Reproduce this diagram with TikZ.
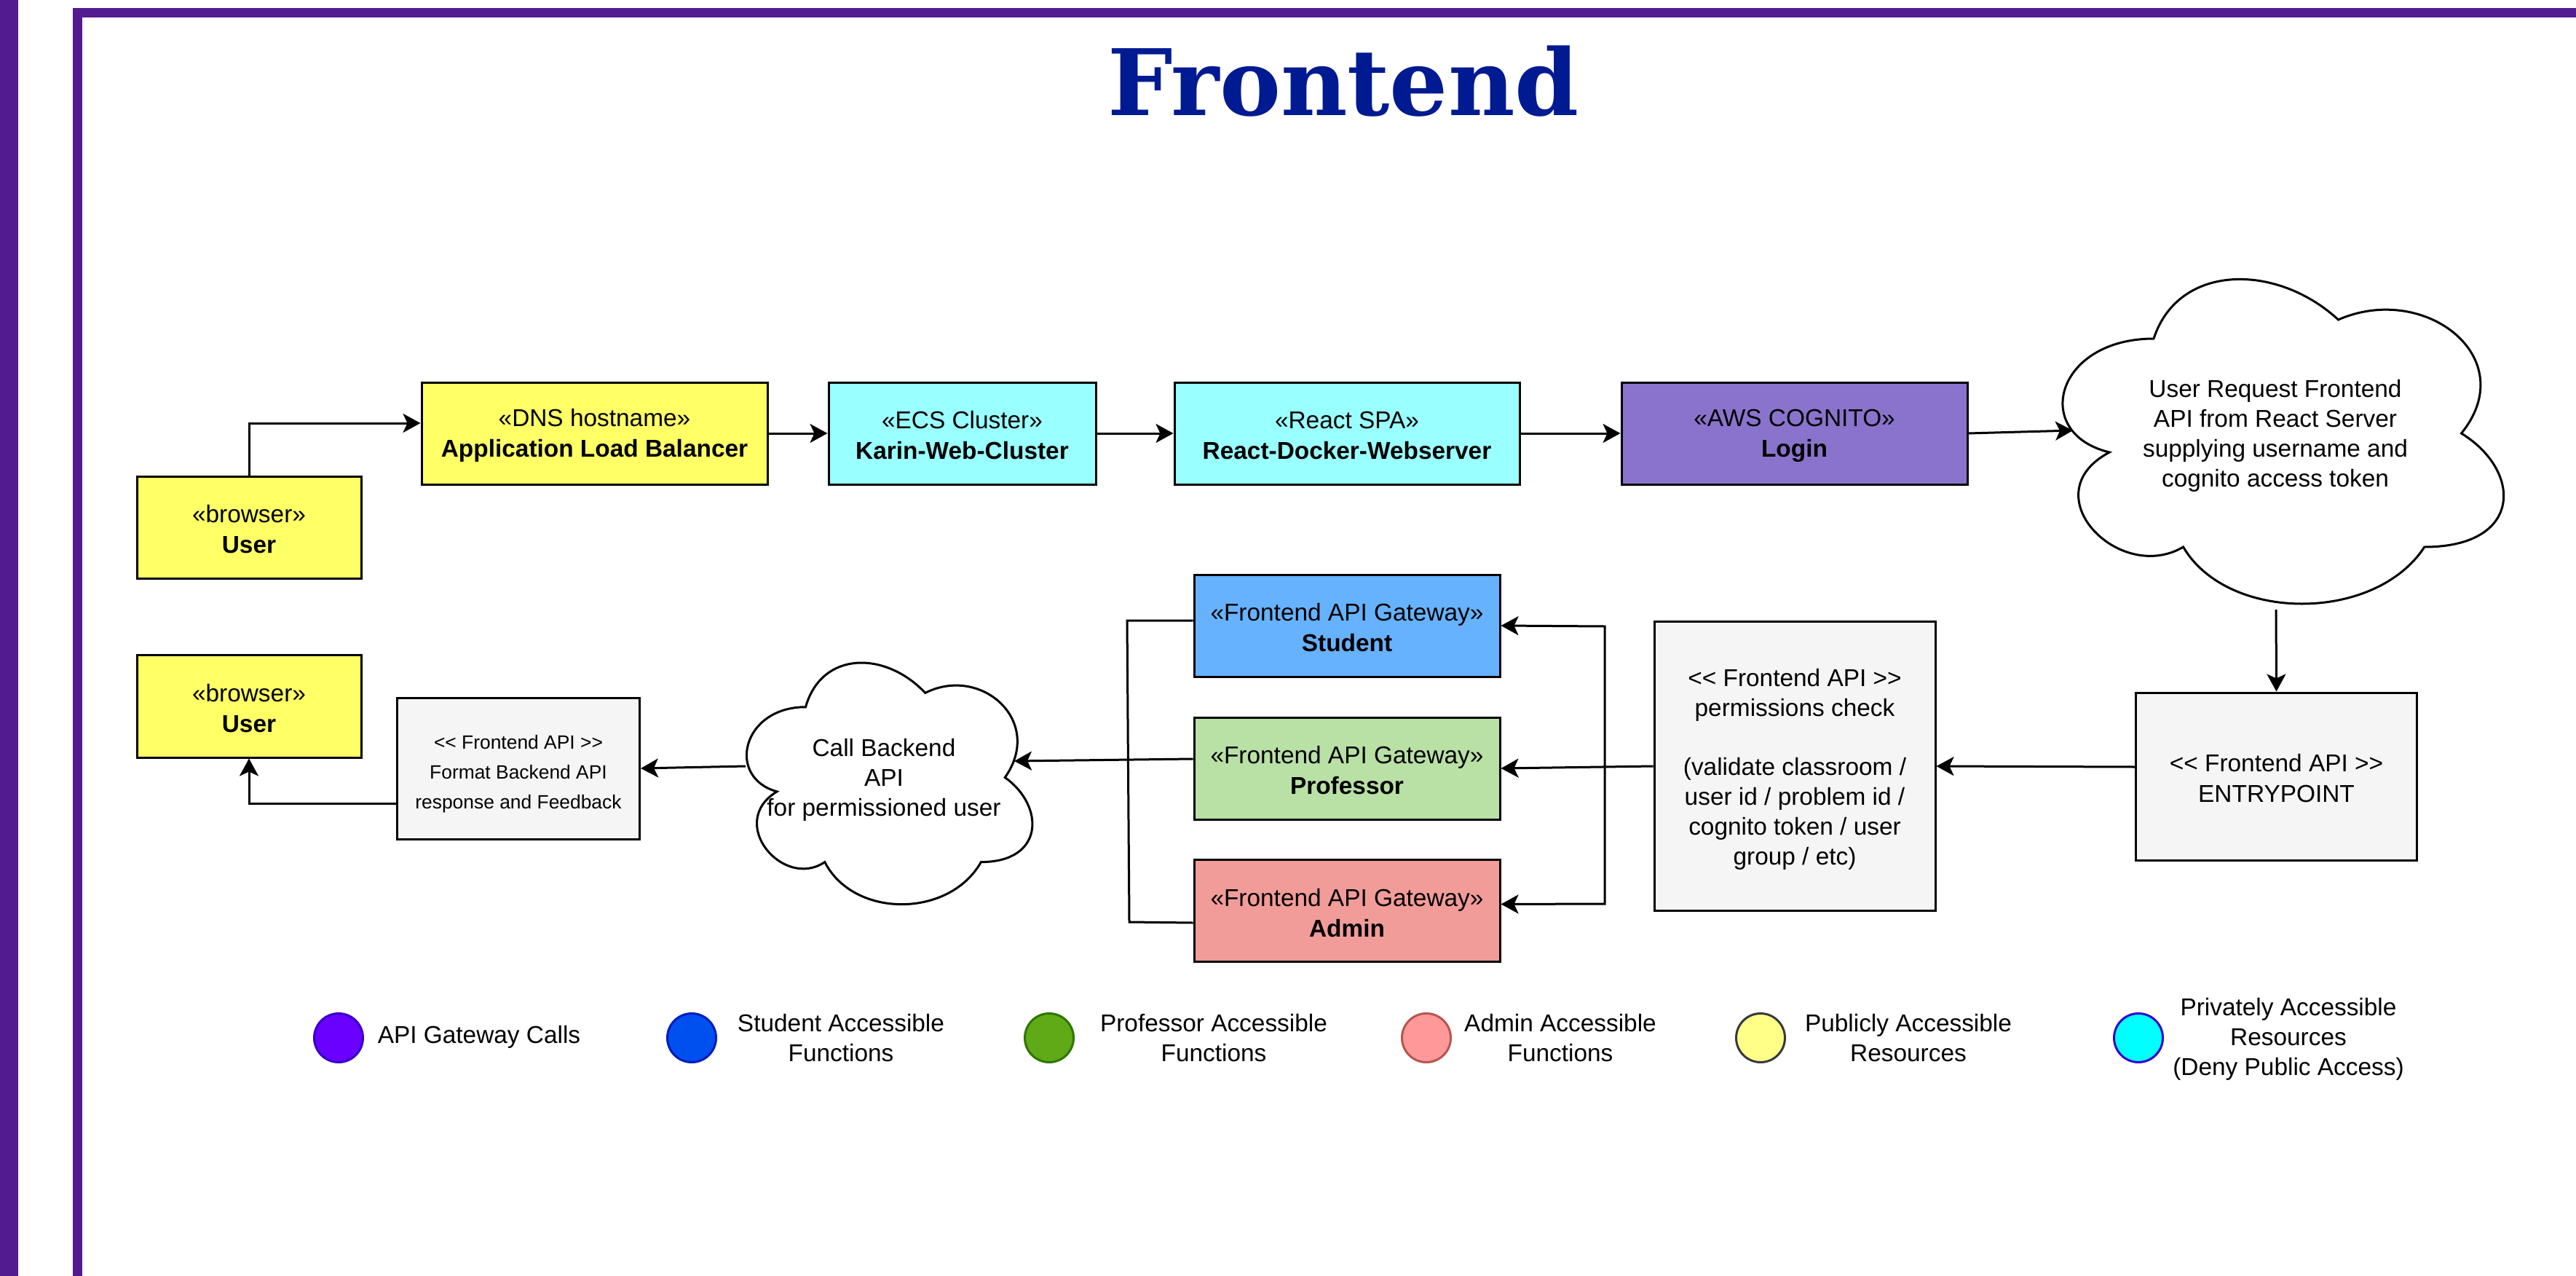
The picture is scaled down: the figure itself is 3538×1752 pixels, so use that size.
\documentclass[tikz,border=0pt]{standalone}
\usepackage{fontspec}
\setmainfont{Liberation Sans}
\newfontfamily\titlefont{DejaVu Serif}
\usetikzlibrary{arrows.meta}
\definecolor{framecol}{RGB}{82,28,144}
\definecolor{titlecol}{RGB}{0,26,145}
\definecolor{pubyellow}{HTML}{FFFF66}
\definecolor{privcyan}{HTML}{99FFFF}
\definecolor{loginpurple}{HTML}{8A73CC}
\definecolor{stublue}{HTML}{66B2FF}
\definecolor{profgreen}{HTML}{B9E0A5}
\definecolor{adminred}{HTML}{F19C99}
\definecolor{apigrey}{HTML}{F5F5F5}
\newcommand{\lowerstrut}{\rule{0pt}{30pt}}
\tikzset{
  base text/.style={font=\fontsize{33.4}{41}\selectfont,align=center,inner sep=0pt,text=black},
  box/.style={base text,font=\fontsize{33.4}{42}\selectfont,draw=black,line width=3pt,minimum width=#1},
  box/.default=100pt,
  conn/.style={line width=3pt,draw=black,-{Stealth[length=24pt,width=26pt,inset=6pt]}},
  plainline/.style={line width=3pt,draw=black},
  cloudline/.style={line width=3pt,draw=black,fill=white},
  legend dot/.style={circle,inner sep=0pt,minimum size=67pt,line width=3pt},
  legend text/.style={base text},
}
\newcommand{\cloudshape}[4]{%
  \begin{scope}[shift={(#1,#2)},x=#3pt,y=-#4pt]
    \path[cloudline] (.25,.25) .. controls (.05,.25) and (0,.5) .. (.16,.55)
      .. controls (0,.66) and (.18,.9) .. (.31,.8)
      .. controls (.4,1) and (.7,1) .. (.8,.8)
      .. controls (1,.8) and (1,.6) .. (.875,.5)
      .. controls (1,.3) and (.8,.1) .. (.625,.2)
      .. controls (.5,.05) and (.3,.05) .. (.25,.25) -- cycle;
  \end{scope}}
\begin{document}
\begin{tikzpicture}[x=1pt,y=-1pt]
\useasboundingbox (0,0) rectangle (3538,1752);
\fill[white] (0,0) rectangle (3538,1752);
% frame
\fill[framecol] (0,0) rectangle (25,1752);
\fill[framecol] (100,11) rectangle (113,1752);
\fill[framecol] (100,11) rectangle (3538,24);
% title
\node[anchor=base,inner sep=0pt,text=titlecol,font=\fontsize{126}{130}\selectfont\titlefont\bfseries] (title) at (1845,159) {Frontend};
% clouds
\cloudshape{2789}{335}{676}{520}
\cloudshape{997}{874}{438}{387}
\node[base text] (cloudA) at (3125,598) {User Request Frontend\\API from React Server\\supplying username and\\cognito access token};
\node[base text] (cloudB) at (1214,1071) {Call Backend \\API\\for permissioned user};
\coordinate (cloudAin) at (2847,591);
\coordinate (cloudAout) at (3126,837);
\coordinate (cloudBin) at (1393,1045);
\coordinate (cloudBout) at (1024,1052);
% top row
\node[box=308pt,fill=pubyellow,minimum height=140pt] (user1) at (342,724) {\lowerstrut«browser»\\\textbf{User}};
\node[box=475pt,fill=pubyellow,minimum height=140pt] (alb) at (816.5,595) {\lowerstrut«DNS hostname»\\\textbf{Application Load Balancer}};
\node[box=367pt,fill=privcyan,minimum height=140pt] (karin) at (1321.5,595) {\lowerstrut«ECS Cluster»\\\textbf{Karin-Web-Cluster}};
\node[box=474pt,fill=privcyan,minimum height=140pt] (react) at (1850,595) {\lowerstrut«React SPA»\\\textbf{React-Docker-Webserver}};
\node[box=475pt,fill=loginpurple,minimum height=140pt] (login) at (2464.5,595) {\lowerstrut«AWS COGNITO»\\\textbf{Login}};
% bottom row
\node[box=386pt,fill=apigrey,minimum height=230pt] (entry) at (3126.5,1066) {\lowerstrut<{}< Frontend API >{}>\\ENTRYPOINT};
\node[box=386pt,fill=apigrey,minimum height=397pt,font=\fontsize{33.4}{41}\selectfont] (perm) at (2465,1052) {\rule{0pt}{33pt}<{}< Frontend API >{}>\\permissions check\\[40pt](validate classroom /\\user id / problem id /\\cognito token / user\\group / etc)};
\node[box=420pt,fill=stublue,minimum height=140pt] (student) at (1850,859) {\lowerstrut«Frontend API Gateway»\\\textbf{Student}};
\node[box=420pt,fill=profgreen,minimum height=140pt] (prof) at (1850,1055) {\lowerstrut«Frontend API Gateway»\\\textbf{Professor}};
\node[box=420pt,fill=adminred,minimum height=140pt] (admin) at (1850,1250.5) {\lowerstrut«Frontend API Gateway»\\\textbf{Admin}};
\node[box=333pt,fill=apigrey,minimum height=194pt,font=\fontsize{26.4}{41}\selectfont] (format) at (712,1055) {\rule{0pt}{34pt}<{}< Frontend API >{}>\\Format Backend API\\response and Feedback};
\node[box=308pt,fill=pubyellow,minimum height=141pt] (user2) at (342,969.5) {\lowerstrut«browser»\\\textbf{User}};
% connectors
\coordinate (elbowS) at (2204,860);
\coordinate (elbowA) at (2204,1241);
\coordinate (leftT) at (1548,852);
\coordinate (leftB) at (1551,1266);
\draw[conn] (user1.north) |- ([yshift=14pt]alb.west);
\draw[conn] (alb) -- (karin);
\draw[conn] (karin) -- (react);
\draw[conn] (react) -- (login);
\draw[conn] (login.east) -- (cloudAin);
\draw[conn] (cloudAout) -- (entry.north);
\draw[conn] ([yshift=13pt]entry.west) -- (perm.east);
\draw[conn] ([yshift=0pt]perm.west) -- (prof.east);
\draw[plainline,{Stealth[length=24pt,width=26pt,inset=6pt]}-{Stealth[length=24pt,width=26pt,inset=6pt]}] (student.east) -- (elbowS) -- (elbowA) -- ([yshift=9pt]admin.east);
\draw[plainline] ([yshift=7pt]student.west) -- (leftT) -- (leftB) -- ([yshift=-16.5pt]admin.west);
\draw[conn] ([yshift=13pt]prof.west) -- (cloudBin);
\draw[conn] (cloudBout) -- (format.east);
\draw[conn] ([yshift=-48pt]format.west) -| (user2.south);
% legend
\node[legend dot,fill={rgb,255:red,106;green,0;blue,255},draw={rgb,255:red,55;green,0;blue,204}] (d1) at (465,1425) {};
\node[legend dot,fill={rgb,255:red,0;green,80;blue,239},draw={rgb,255:red,0;green,29;blue,188}] (d2) at (950,1425) {};
\node[legend dot,fill={rgb,255:red,96;green,169;blue,23},draw={rgb,255:red,45;green,118;blue,0}] (d3) at (1441,1425) {};
\node[legend dot,fill={rgb,255:red,255;green,153;blue,153},draw={rgb,255:red,184;green,84;blue,80}] (d4) at (1959,1425) {};
\node[legend dot,fill={rgb,255:red,255;green,255;blue,136},draw={rgb,255:red,54;green,57;blue,61}] (d5) at (2418,1425) {};
\node[legend dot,fill={rgb,255:red,0;green,255;blue,255},draw={rgb,255:red,55;green,0;blue,204}] (d6) at (2937,1425) {};
\node[legend text] (t1) at (658,1424) {API Gateway Calls};
\node[legend text] (t2) at (1155,1425) {Student Accessible\\Functions};
\node[legend text] (t3) at (1667,1425) {Professor Accessible\\Functions};
\node[legend text] (t4) at (2143,1425) {Admin Accessible\\Functions};
\node[legend text] (t5) at (2621,1425) {Publicly Accessible\\Resources};
\node[legend text] (t6) at (3143,1427) {Privately Accessible\\Resources\\(Deny Public Access)};
\end{tikzpicture}
\end{document}
